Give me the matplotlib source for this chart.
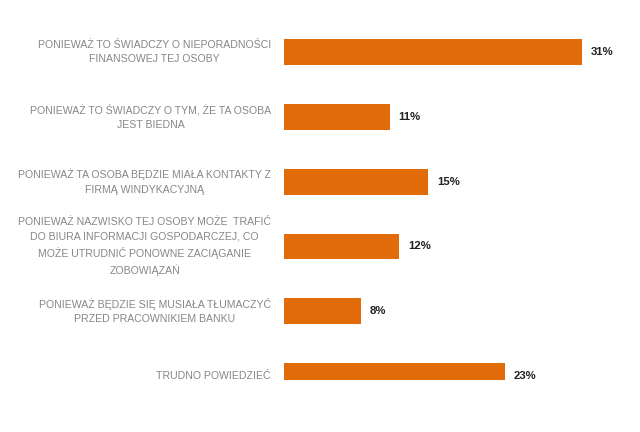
import matplotlib.pyplot as plt

plt.rcParams['font.family'] = ['Liberation Sans', 'DejaVu Sans']

# ---------------------------------------------------------------------------
# Data
# ---------------------------------------------------------------------------

categories = [
    "PONIEWAŻ TO ŚWIADCZY O NIEPORADNOŚCI\nFINANSOWEJ TEJ OSOBY",
    "PONIEWAŻ TO ŚWIADCZY O TYM, ŻE TA OSOBA\nJEST BIEDNA",
    "PONIEWAŻ TA OSOBA BĘDZIE MIAŁA KONTAKTY Z\nFIRMĄ WINDYKACYJNĄ",
    "PONIEWAŻ NAZWISKO TEJ OSOBY MOŻE  TRAFIĆ\nDO BIURA INFORMACJI GOSPODARCZEJ, CO\n"
    "MOŻE UTRUDNIĆ PONOWNE ZACIĄGANIE\nZOBOWIĄZAŃ",
    "PONIEWAŻ BĘDZIE SIĘ MUSIAŁA TŁUMACZYĆ\nPRZED PRACOWNIKIEM BANKU",
    "TRUDNO POWIEDZIEĆ",
]
values = [31, 11, 15, 12, 8, 23]
value_labels = ["31%", "11%", "15%", "12%", "8%", "23%"]

BAR_COLOR = '#E36C0A'
LABEL_COLOR = '#878787'

# ---------------------------------------------------------------------------
# Plot
# ---------------------------------------------------------------------------

fig = plt.figure(figsize=(6.4, 4.32), dpi=100)
ax = fig.add_axes([284 / 640, 1 - 380 / 432, 346 / 640, (380 - 19.6) / 432])

pos = list(range(len(values)))
ax.barh(pos, values, height=0.4, color=BAR_COLOR)
ax.set_xlim(0, 36)
ax.set_ylim(5.06, -0.5)

for y, v, txt in zip(pos, values, value_labels):
    ax.text(v + 0.9, y, txt, va='center', ha='left', fontsize=8.2,
            fontweight='bold', color='#222222', clip_on=False)

for y, cat in zip(pos, categories):
    fig.text(271 / 640, ax.transData.transform((0, y))[1] / fig.bbox.height,
             cat, ha='right', va='center', multialignment='center',
             fontsize=7.6, color=LABEL_COLOR, linespacing=1.55)

ax.set_xticks([])
ax.set_yticks([])
for s in ax.spines.values():
    s.set_visible(False)

plt.savefig("out.png", dpi=100)
plt.close()
